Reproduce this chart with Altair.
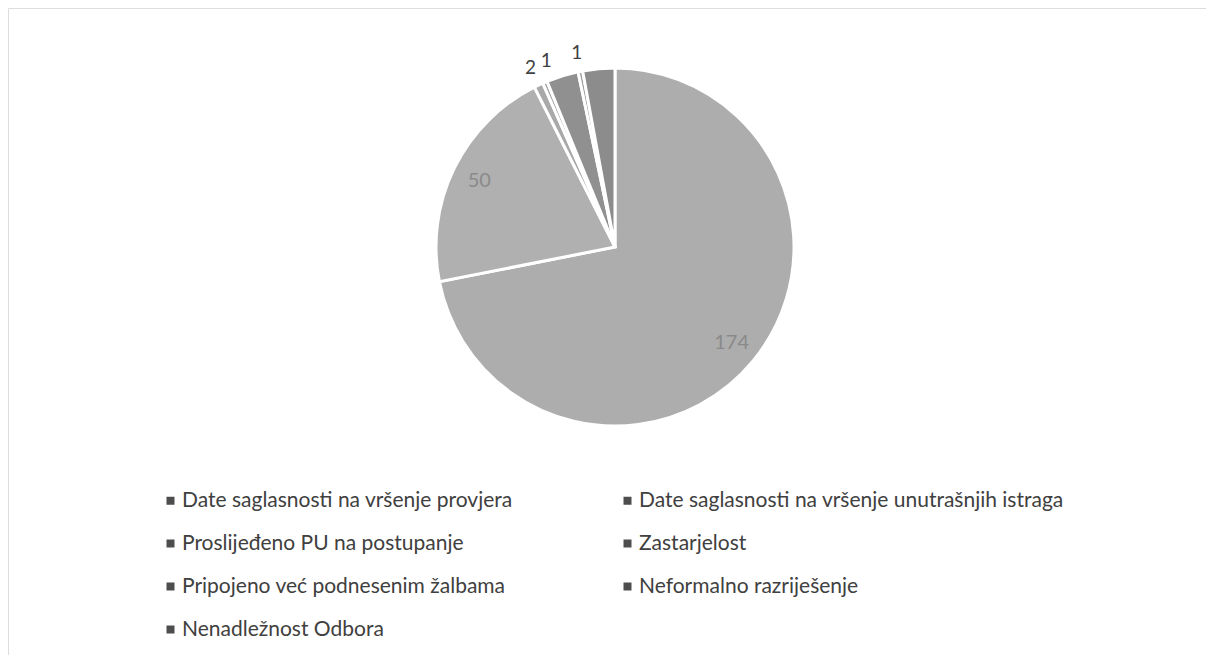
import altair as alt
import pandas as pd

categories = [
    "Date saglasnosti na vršenje provjera",
    "Date saglasnosti na vršenje unutrašnjih istraga",
    "Proslijeđeno PU na postupanje",
    "Zastarjelost",
    "Pripojeno već podnesenim žalbama",
    "Neformalno razriješenje",
    "Nenadležnost Odbora",
]
values = [174, 50, 2, 1, 7, 1, 7]
slice_colors = ["#adadad", "#b0b0b0", "#a9a9a9", "#a4a4a4", "#909090", "#9c9c9c", "#8c8c8c"]

df = pd.DataFrame({"category": categories, "value": values, "idx": list(range(len(values)))})

CX, CY, R = 607, 239, 179
FONT = "Lato"

base = alt.Chart(df)

legend_layer = base.mark_square(size=20, opacity=1).encode(
    x=alt.value(660), y=alt.value(300),
    fill=alt.Fill(
        "category:N",
        scale=alt.Scale(domain=categories, range=["#4d4d4d"] * len(categories)),
        sort=categories,
        legend=alt.Legend(
            title=None, orient="none", legendX=152, legendY=482,
            direction="horizontal",
            columns=2, columnPadding=104, rowPadding=21,
            symbolType="square", symbolSize=64, symbolStrokeWidth=0,
            labelFont=FONT, labelFontSize=21, labelColor="#404040",
            labelOffset=1, labelLimit=600, padding=0,
        ),
    ),
)

arcs = base.mark_arc(outerRadius=R, stroke="white", strokeWidth=3).encode(
    theta=alt.Theta("value:Q", stack=True),
    order=alt.Order("idx:Q"),
    color=alt.Color("category:N", scale=alt.Scale(domain=categories, range=slice_colors), legend=None),
    x=alt.value(CX), y=alt.value(CY),
)

labels = (
    base.transform_joinaggregate(total="sum(value)")
    .transform_window(cum="sum(value)", sort=[alt.SortField("idx")], frame=[None, 0])
    .transform_calculate(mid="(datum.cum - datum.value/2) / datum.total * 2 * PI")
    .transform_window(prev_mid="lag(mid)", sort=[alt.SortField("idx")])
    .transform_calculate(
        ang="datum.value <= 2 && datum.prev_mid != null && (datum.mid - datum.prev_mid) < 4*PI/180 ? datum.prev_mid + 5*PI/180 : datum.mid",
        rad=f"datum.value <= 2 ? {R + 19} : {R - 28}",
    )
    .transform_calculate(
        lx=f"{CX} + datum.rad * sin(datum.ang)",
        ly=f"{CY} - datum.rad * cos(datum.ang)",
    )
    .transform_filter("datum.value <= 2 || datum.value >= 50")
    .mark_text(font=FONT, align="center", baseline="middle")
    .encode(
        x=alt.X("lx:Q", scale=None, axis=None),
        y=alt.Y("ly:Q", scale=None, axis=None),
        text=alt.Text("value:Q"),
        color=alt.condition("datum.value <= 2", alt.value("#404040"), alt.value("#8a8a8a")),
        size=alt.condition("datum.value <= 2", alt.value(19), alt.value(20)),
    )
)

chart = (
    alt.layer(legend_layer, arcs, labels)
    .properties(width=1198, height=647, padding=0, autosize=alt.AutoSizeParams(type="none"))
    .configure_view(stroke=None)
    .configure(background="white")
)

chart.save("out.html", embed_options={"renderer": "svg", "actions": False})
